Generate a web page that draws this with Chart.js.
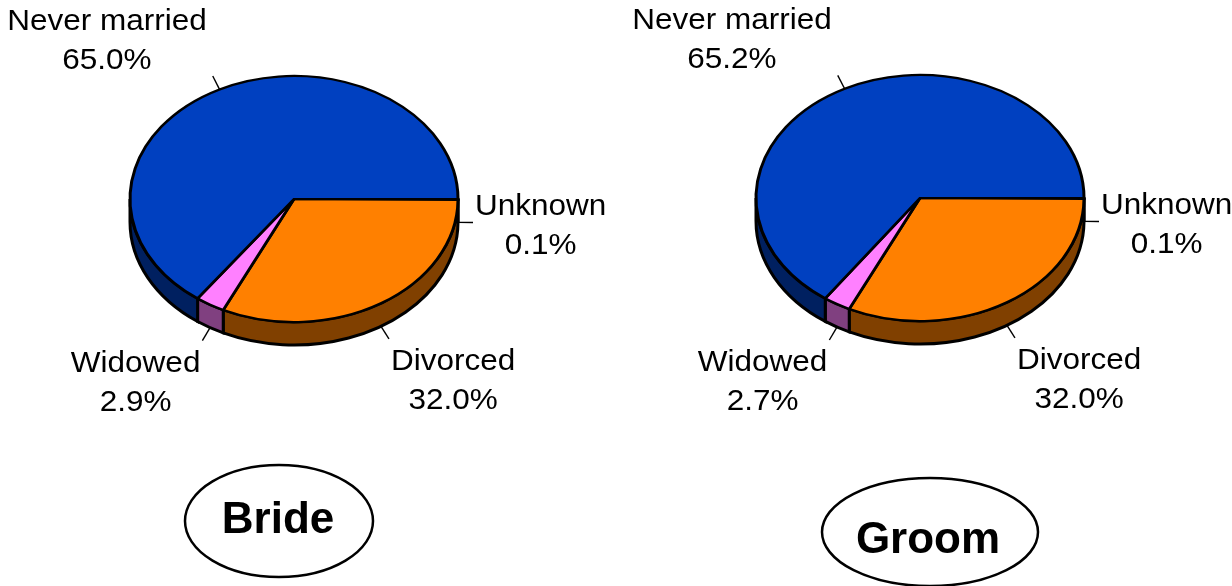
<!DOCTYPE html>
<html>
<head>
<meta charset="utf-8">
<script src="https://cdn.jsdelivr.net/npm/chart.js@4.4.0/dist/chart.umd.min.js"></script>
<style>
  html, body { margin: 0; padding: 0; background: #fff; }
  #wrap { position: relative; width: 1232px; height: 586px; }
  canvas { position: absolute; top: 0; }
</style>
</head>
<body>
<div id="wrap">
  <canvas id="bride" width="616" height="586" style="left:0"></canvas>
  <canvas id="groom" width="616" height="586" style="left:616px"></canvas>
</div>
<script>
// Marital status before marriage, share in percent
const statusLabels = ['Unknown', 'Divorced', 'Widowed', 'Never married'];
const brideShares = [0.1, 32.0, 2.9, 65.0];
const groomShares = [0.1, 32.0, 2.7, 65.2];

const topColors = ['#ffff80', '#ff8000', '#ff80ff', '#0040c0'];
const sideColors = ['#808040', '#804000', '#804080', '#002060'];

const FONT = '"Liberation Sans", Arial, sans-serif';
const W = 616, H = 586;
const STRETCH = 1.05;   // labels run a little wide

// flattened pie with a thick rim, plus labels with leader lines and a boxed caption
const pie3d = {
  id: 'pie3d',
  beforeDatasetsDraw(chart, args, opts) {
    const ctx = chart.ctx;
    const arcs = chart.getDatasetMeta(0).data;
    const { x, y, outerRadius: r } = arcs[0];
    const ry = r * opts.tilt;

    // rim: only the front half (0..PI) is visible
    ctx.save();
    ctx.lineWidth = 3;
    ctx.lineJoin = 'miter';
    ctx.strokeStyle = '#000';
    arcs.forEach((arc, i) => {
      const s = Math.max(arc.startAngle, 0);
      const e = Math.min(arc.endAngle, Math.PI);
      if (e <= s) return;
      ctx.beginPath();
      ctx.ellipse(x, y, r, ry, 0, s, e);
      ctx.ellipse(x, y + opts.depth, r, ry, 0, e, s, true);
      ctx.closePath();
      ctx.fillStyle = opts.sideColors[i];
      ctx.fill();
      ctx.stroke();
    });
    ctx.restore();

    // squash the top face that the controller draws next
    ctx.save();
    ctx.translate(x, y);
    ctx.scale(1, opts.tilt);
    ctx.translate(-x, -y);
  },
  afterDatasetsDraw(chart) {
    chart.ctx.restore();
  },
  afterDraw(chart, args, opts) {
    const ctx = chart.ctx;
    const arcs = chart.getDatasetMeta(0).data;
    const { x, y, outerRadius: r } = arcs[0];
    const ry = r * opts.tilt;
    const values = chart.data.datasets[0].data;

    ctx.save();
    ctx.fillStyle = '#000';
    ctx.strokeStyle = '#000';
    ctx.font = `30px ${FONT}`;
    ctx.textAlign = 'center';
    ctx.textBaseline = 'alphabetic';
    arcs.forEach((arc, i) => {
      const mid = (arc.startAngle + arc.endAngle) / 2;
      const c = Math.cos(mid), s = Math.sin(mid);
      const px = x + r * c;
      const py = y + ry * s + (s > 0 ? opts.depth : 0);
      const ex = px + 15 * c, ey = py + 15 * s;
      ctx.lineWidth = 1.4;
      ctx.beginPath();
      ctx.moveTo(px, py);
      ctx.lineTo(ex, ey);
      ctx.stroke();

      const lines = [chart.data.labels[i], values[i].toFixed(1) + '%'];
      const w = STRETCH * Math.max(...lines.map(t => ctx.measureText(t).width));
      const left = c < 0 ? ex - (s < 0 ? 6 : 2) - w : ex + 2;
      const b1 = Math.abs(s) < 0.3 ? ey - 7 : (s < 0 ? ey - 46 : ey + 31);
      lines.forEach((t, k) => {
        ctx.save();
        ctx.translate(left + w / 2, b1 + 39 * k);
        ctx.scale(STRETCH, 1);
        ctx.fillText(t, 0, 0);
        ctx.restore();
      });
    });

    const t = opts.caption;
    ctx.lineWidth = 2.5;
    ctx.beginPath();
    ctx.ellipse(t.cx, t.cy, t.rx, t.ry, 0, 0, Math.PI * 2);
    ctx.stroke();
    ctx.font = `bold 44px ${FONT}`;
    ctx.fillText(t.text, t.tx, t.baseline);
    ctx.restore();
  }
};

function makePie(id, shares, center, caption) {
  const R = 164;
  return new Chart(document.getElementById(id), {
    type: 'pie',
    data: {
      labels: statusLabels,
      datasets: [{
        data: shares,
        backgroundColor: topColors,
        borderColor: '#000',
        borderWidth: 3,
        borderJoinStyle: 'miter',
        radius: R
      }]
    },
    options: {
      responsive: false,
      animation: false,
      events: [],
      rotation: 90,
      layout: {
        padding: {
          left: center.x - R,
          right: W - center.x - R,
          top: center.y - R,
          bottom: H - center.y - R
        }
      },
      plugins: {
        legend: { display: false },
        tooltip: { enabled: false },
        pie3d: { tilt: 0.75, depth: 23, sideColors: sideColors, caption: caption }
      }
    },
    plugins: [pie3d]
  });
}

makePie('bride', brideShares, { x: 294, y: 199 },
  { text: 'Bride', cx: 279, cy: 521, rx: 94, ry: 56, tx: 278, baseline: 533 });
makePie('groom', groomShares, { x: 304, y: 198 },
  { text: 'Groom', cx: 314, cy: 532, rx: 108, ry: 54, tx: 312, baseline: 553 });
</script>
</body>
</html>
